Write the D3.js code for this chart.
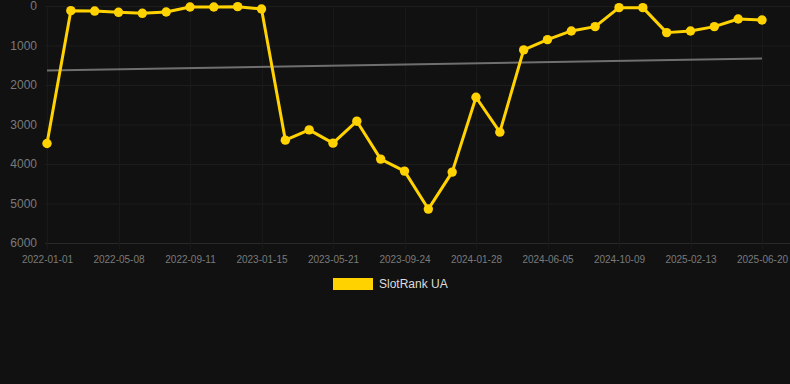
<!DOCTYPE html>
<html>
<head>
<meta charset="utf-8">
<script src="https://cdn.jsdelivr.net/npm/d3@7"></script>
<style>
  html, body { margin: 0; padding: 0; background: #111111; }
  #chart { width: 790px; height: 384px; }
  text { font-family: "Liberation Sans", Arial, Helvetica, sans-serif; }
</style>
</head>
<body>
<div id="chart"></div>
<script>
// Dates on the x axis (one point roughly every six weeks)
const dates = [
    "2022-01-01", "2022-02-12", "2022-03-26", "2022-05-08", "2022-06-19", "2022-07-31",
    "2022-09-11", "2022-10-23", "2022-12-04", "2023-01-15", "2023-02-26", "2023-04-09",
    "2023-05-21", "2023-07-02", "2023-08-13", "2023-09-24", "2023-11-05", "2023-12-17",
    "2024-01-28", "2024-03-10", "2024-04-22", "2024-06-05", "2024-07-17", "2024-08-28",
    "2024-10-09", "2024-11-20", "2025-01-01", "2025-02-13", "2025-03-27", "2025-05-08",
    "2025-06-20"
];

// SlotRank UA rank values (lower is better, axis is reversed)
const rankValues = [
    3480, 118, 128, 160, 185, 152,
    25, 25, 17, 76, 3396, 3135,
    3472, 2916, 3876, 4180, 5141, 4205,
    2310, 3194, 1112, 851, 632, 522,
    42, 42, 674, 632, 522, 329,
    354
];

// trend line values at first and last date
const trendValues = [1635, 1332];

const yTicks = [0, 1000, 2000, 3000, 4000, 5000, 6000];
const seriesName = "SlotRank UA";

document.addEventListener("DOMContentLoaded", function() {
    const width = 790, height = 384;
    const margin = { top: 6, right: 28, bottom: 141, left: 47 };
    const chart_width = width - margin.left - margin.right;
    const chart_height = height - margin.top - margin.bottom;

    const svg = d3.select("#chart").append("svg")
        .attr("width", width)
        .attr("height", height);

    const g = svg.append("g")
        .attr("transform", `translate(${margin.left},${margin.top})`);

    const x = d3.scalePoint()
        .domain(dates)
        .range([0, chart_width]);

    const y = d3.scaleLinear()
        .domain([0, 6000])
        .range([0, chart_height]);

    const shownDates = dates.filter((d, i) => i % 3 === 0);

    // grid lines
    g.append("g")
        .selectAll("line")
        .data(yTicks)
        .join("line")
        .attr("x1", -2)
        .attr("x2", chart_width + margin.right)
        .attr("y1", d => y(d) + 0.5)
        .attr("y2", d => y(d) + 0.5)
        .attr("stroke", d => d === 6000 ? "#2a2a2a" : "#1d1d1d")
        .attr("stroke-width", 1);

    g.append("g")
        .selectAll("line")
        .data(shownDates)
        .join("line")
        .attr("x1", d => Math.round(x(d)) + 0.5)
        .attr("x2", d => Math.round(x(d)) + 0.5)
        .attr("y1", 0)
        .attr("y2", chart_height + 6)
        .attr("stroke", "#191919")
        .attr("stroke-width", 1);

    // y axis labels
    const yAxis = d3.axisLeft(y).tickValues(yTicks).tickFormat(d3.format("d"))
        .tickSize(0).tickPadding(10);
    g.append("g")
        .call(yAxis)
        .call(a => a.select(".domain").remove())
        .call(a => a.selectAll("text")
            .attr("fill", "#7a7a7a")
            .style("font-size", "12px"));

    // x axis labels
    const xAxis = d3.axisBottom(x).tickValues(shownDates).tickSize(0).tickPadding(13);
    g.append("g")
        .attr("transform", `translate(0,${chart_height})`)
        .call(xAxis)
        .call(a => a.select(".domain").remove())
        .call(a => a.selectAll("text")
            .attr("fill", "#7a7a7a")
            .style("font-size", "10px"));

    // trend line
    g.append("line")
        .attr("x1", x(dates[0]))
        .attr("x2", x(dates[dates.length - 1]))
        .attr("y1", y(trendValues[0]))
        .attr("y2", y(trendValues[1]))
        .attr("stroke", "#6f6f6f")
        .attr("stroke-width", 2);

    // rank line
    const line = d3.line()
        .x((d, i) => x(dates[i]))
        .y(d => y(d));

    g.append("path")
        .datum(rankValues)
        .attr("fill", "none")
        .attr("stroke", "#FFD200")
        .attr("stroke-width", 3)
        .attr("stroke-linejoin", "round")
        .attr("d", line);

    g.append("g")
        .selectAll("circle")
        .data(rankValues)
        .join("circle")
        .attr("cx", (d, i) => x(dates[i]))
        .attr("cy", d => y(d))
        .attr("r", 4.7)
        .attr("fill", "#FFD200");

    // legend
    const legend = svg.append("g").attr("transform", "translate(333,278)");
    legend.append("rect")
        .attr("width", 40)
        .attr("height", 12)
        .attr("fill", "#FFD200");
    legend.append("text")
        .attr("x", 46)
        .attr("y", 6)
        .attr("dy", "0.35em")
        .attr("fill", "#dddddd")
        .style("font-size", "12px")
        .text(seriesName);
});
</script>
</body>
</html>
